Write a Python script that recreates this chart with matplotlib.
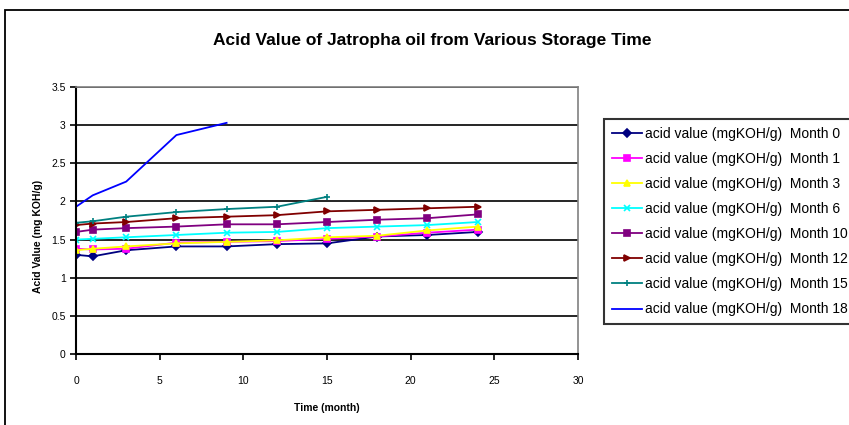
import matplotlib
matplotlib.use('Agg')
import matplotlib.pyplot as plt
from matplotlib.patches import Rectangle

# storage time (months) at which acid value was measured
time_full = [0, 1, 3, 6, 9, 12, 15, 18, 21, 24]

# acid value (mg KOH/g) for oil stored from different starting months
month_0 = [1.30, 1.28, 1.36, 1.41, 1.41, 1.44, 1.45, 1.54, 1.56, 1.60]
month_1 = [1.38, 1.37, 1.38, 1.46, 1.47, 1.48, 1.51, 1.54, 1.59, 1.63]
month_3 = [1.36, 1.38, 1.41, 1.45, 1.47, 1.49, 1.53, 1.55, 1.62, 1.67]
month_6 = [1.50, 1.51, 1.53, 1.56, 1.59, 1.60, 1.65, 1.67, 1.69, 1.73]
month_10 = [1.60, 1.63, 1.65, 1.67, 1.70, 1.70, 1.73, 1.76, 1.78, 1.83]
month_12 = [1.69, 1.71, 1.73, 1.78, 1.80, 1.82, 1.87, 1.89, 1.91, 1.93]
month_15 = [1.72, 1.74, 1.80, 1.86, 1.90, 1.93, 2.06]
month_18 = [1.93, 2.08, 2.26, 2.87, 3.03]

series_names = ['Month 0', 'Month 1', 'Month 3', 'Month 6',
                'Month 10', 'Month 12', 'Month 15', 'Month 18']
series_values = [month_0, month_1, month_3, month_6,
                 month_10, month_12, month_15, month_18]
colors = ['#000080', '#FF00FF', '#FFFF00', '#00FFFF',
          '#800080', '#800000', '#008080', '#0000FF']
markers = ['D', 's', '^', 'x', 's', '>', '+', None]

plt.rcParams['font.family'] = ['Liberation Sans', 'DejaVu Sans']

fig = plt.figure(figsize=(8.49, 4.25), dpi=100)
ax = fig.add_axes([76 / 849, 1 - 354 / 425, (578 - 76) / 849, (354 - 87) / 425])

# outer chart border (cut off at right and bottom, as in the picture)
fig.patches.append(Rectangle((5 / 849, -0.2), 1.2, 1.2 - 10 / 425,
                             transform=fig.transFigure, fill=False,
                             edgecolor='black', linewidth=1.3))

for name, vals, c, m in zip(series_names, series_values, colors, markers):
    ax.plot(time_full[:len(vals)], vals, color=c, marker=m, markersize=4,
            markeredgewidth=1.2, linewidth=1.3,
            label='acid value (mgKOH/g)  ' + name)

ax.set_xlim(0, 30)
ax.set_ylim(0, 3.5)
ax.set_xticks(range(0, 31, 5))
ax.set_yticks([0, 0.5, 1, 1.5, 2, 2.5, 3, 3.5])
ax.set_yticklabels(['0', '0.5', '1', '1.5', '2', '2.5', '3', '3.5'])
ax.yaxis.grid(True, color='black', linewidth=1.2)
ax.set_axisbelow(True)
ax.tick_params(axis='both', labelsize=7.5, length=4, width=1.2, direction='out')
ax.tick_params(axis='x', pad=12)

for s in ['left', 'bottom']:
    ax.spines[s].set_color('black')
    ax.spines[s].set_linewidth(1.5)
for s in ['top', 'right']:
    ax.spines[s].set_color('#808080')
    ax.spines[s].set_linewidth(1.2)

ax.set_xlabel('Time (month)', fontsize=7.5, fontweight='bold', labelpad=12)
ax.set_ylabel('Acid Value (mg KOH/g)', fontsize=7.5, fontweight='bold')
ax.yaxis.set_label_coords(-0.066, 0.44)

fig.text(0.509, 1 - 40 / 425, 'Acid Value of Jatropha oil from Various Storage Time',
         ha='center', va='center', fontsize=12.5, fontweight='bold')

leg = ax.legend(loc='upper left', bbox_to_anchor=(604 / 849, 1 - 119 / 425),
                bbox_transform=fig.transFigure, fontsize=10, frameon=True,
                fancybox=False, borderpad=0.55, labelspacing=0.8,
                handlelength=2.2, handletextpad=0.2, borderaxespad=0)
leg.get_frame().set_edgecolor('black')
leg.get_frame().set_linewidth(1.5)

fig.savefig('out.png', dpi=100)
